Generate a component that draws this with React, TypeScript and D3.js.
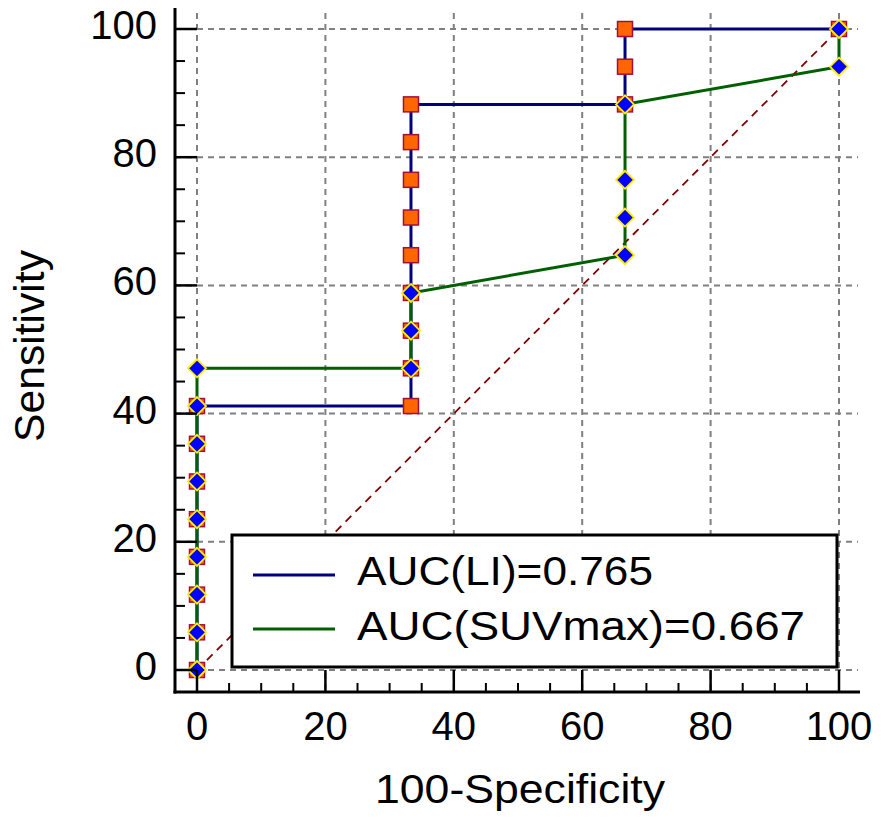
import React from "react";
import * as d3 from "d3";

// ---- data ----
const liX = [0, 0, 0, 0, 0, 0, 0, 0, 33.33, 33.33, 33.33, 33.33, 33.33, 33.33, 33.33, 33.33, 33.33, 66.67, 66.67, 66.67, 100];
const liY = [0, 5.88, 11.76, 17.65, 23.53, 29.41, 35.29, 41.18, 41.18, 47.06, 52.94, 58.82, 64.71, 70.59, 76.47, 82.35, 88.24, 88.24, 94.12, 100, 100];

const suvX = [0, 0, 0, 0, 0, 0, 0, 0, 0, 33.33, 33.33, 33.33, 66.67, 66.67, 66.67, 66.67, 100, 100];
const suvY = [0, 5.88, 11.76, 17.65, 23.53, 29.41, 35.29, 41.18, 47.06, 47.06, 52.94, 58.82, 64.71, 70.59, 76.47, 88.24, 94.12, 100];

const xTicks = [0, 20, 40, 60, 80, 100];
const yTicks = [0, 20, 40, 60, 80, 100];
const minorTicks = [5, 10, 15, 25, 30, 35, 45, 50, 55, 65, 70, 75, 85, 90, 95];

const legendLabels = ["AUC(LI)=0.765", "AUC(SUVmax)=0.667"];
const xTitle = "100-Specificity";
const yTitle = "Sensitivity";

const FONT = "'Liberation Sans', Arial, sans-serif";

export default function App() {
  const x = d3.scaleLinear().domain([0, 100]).range([197, 839]);
  const y = d3.scaleLinear().domain([0, 100]).range([670, 29]);

  const plotLeft = 175;
  const plotRight = 858;
  const plotTop = 10;
  const plotBottom = 692;

  const line = d3
    .line<[number, number]>()
    .x((d) => x(d[0]))
    .y((d) => y(d[1]));

  const liPts: [number, number][] = liX.map((v, i) => [v, liY[i]]);
  const suvPts: [number, number][] = suvX.map((v, i) => [v, suvY[i]]);

  const sq = 15;
  const dm = 9;
  const diamond = (cx: number, cy: number) =>
    `M${cx},${cy - dm}L${cx + dm},${cy}L${cx},${cy + dm}L${cx - dm},${cy}Z`;

  return (
    <div style={{ position: "absolute", left: 0, top: 0 }}>
      <svg width={886} height={828} style={{ display: "block", background: "#fff" }}>
        <rect x={0} y={0} width={886} height={828} fill="#fff" />
        {/* grid */}
        <g stroke="#808080" strokeWidth={2} strokeDasharray="6,5" fill="none">
          {xTicks.map((t) => (
            <line key={"gx" + t} x1={x(t)} x2={x(t)} y1={plotTop + 3} y2={plotBottom} />
          ))}
          {yTicks.map((t) => (
            <line key={"gy" + t} x1={plotLeft} x2={plotRight} y1={y(t)} y2={y(t)} />
          ))}
        </g>
        {/* diagonal */}
        <line
          x1={x(0)}
          y1={y(0)}
          x2={x(100)}
          y2={y(100)}
          stroke="#800000"
          strokeWidth={1.8}
          strokeDasharray="8,6"
        />
        {/* curves */}
        <path d={line(liPts) || ""} fill="none" stroke="#000080" strokeWidth={3} />
        <path d={line(suvPts) || ""} fill="none" stroke="#006000" strokeWidth={3} />
        {liPts.map((p, i) => (
          <rect
            key={"s" + i}
            x={x(p[0]) - sq / 2}
            y={y(p[1]) - sq / 2}
            width={sq}
            height={sq}
            fill="#FF6600"
            stroke="#A0103A"
            strokeWidth={1.5}
          />
        ))}
        {suvPts.map((p, i) => (
          <path
            key={"d" + i}
            d={diamond(x(p[0]), y(p[1]))}
            fill="#0000FF"
            stroke="#FFEE00"
            strokeWidth={1.8}
          />
        ))}
        {/* axes */}
        <g stroke="#000" fill="none">
          <line x1={plotLeft} x2={plotLeft} y1={plotTop - 2} y2={plotBottom + 1.5} strokeWidth={3} />
          <line x1={plotLeft - 1.5} x2={plotRight + 2} y1={plotBottom} y2={plotBottom} strokeWidth={3} />
          {yTicks.map((t) => (
            <line key={"ty" + t} x1={plotLeft} x2={x(0)} y1={y(t)} y2={y(t)} strokeWidth={2.5} />
          ))}
          {minorTicks.map((t) => (
            <line key={"my" + t} x1={plotLeft} x2={plotLeft + 10} y1={y(t)} y2={y(t)} strokeWidth={2} />
          ))}
          {xTicks.map((t) => (
            <line key={"tx" + t} x1={x(t)} x2={x(t)} y1={plotBottom} y2={y(0)} strokeWidth={2.5} />
          ))}
          {minorTicks.map((t) => (
            <line key={"mx" + t} x1={x(t)} x2={x(t)} y1={plotBottom} y2={plotBottom - 9} strokeWidth={2} />
          ))}
        </g>
        {/* tick labels */}
        <g fontFamily={FONT} fontSize={40} fill="#000">
          {yTicks.map((t) => (
            <text key={"ly" + t} x={157} y={y(t) + 10} textAnchor="end">
              {t}
            </text>
          ))}
          {xTicks.map((t) => (
            <text key={"lx" + t} x={x(t)} y={740} textAnchor="middle">
              {t}
            </text>
          ))}
        </g>
        {/* axis titles */}
        <text
          x={520}
          y={803}
          textAnchor="middle"
          fontFamily={FONT}
          fontSize={40}
          textLength={290}
          lengthAdjust="spacingAndGlyphs"
        >
          {xTitle}
        </text>
        <text
          transform={`translate(44,346) rotate(-90)`}
          textAnchor="middle"
          fontFamily={FONT}
          fontSize={42}
          textLength={192}
          lengthAdjust="spacingAndGlyphs"
        >
          {yTitle}
        </text>
        {/* legend */}
        <rect x={232} y={535} width={605} height={132} fill="#fff" stroke="#000" strokeWidth={3} />
        <line x1={253} x2={335} y1={575} y2={575} stroke="#000080" strokeWidth={3} />
        <line x1={253} x2={335} y1={629} y2={629} stroke="#006000" strokeWidth={3} />
        <text x={357} y={585} fontFamily={FONT} fontSize={40} textLength={296} lengthAdjust="spacingAndGlyphs">
          {legendLabels[0]}
        </text>
        <text x={357} y={640} fontFamily={FONT} fontSize={40} textLength={448} lengthAdjust="spacingAndGlyphs">
          {legendLabels[1]}
        </text>
      </svg>
    </div>
  );
}
